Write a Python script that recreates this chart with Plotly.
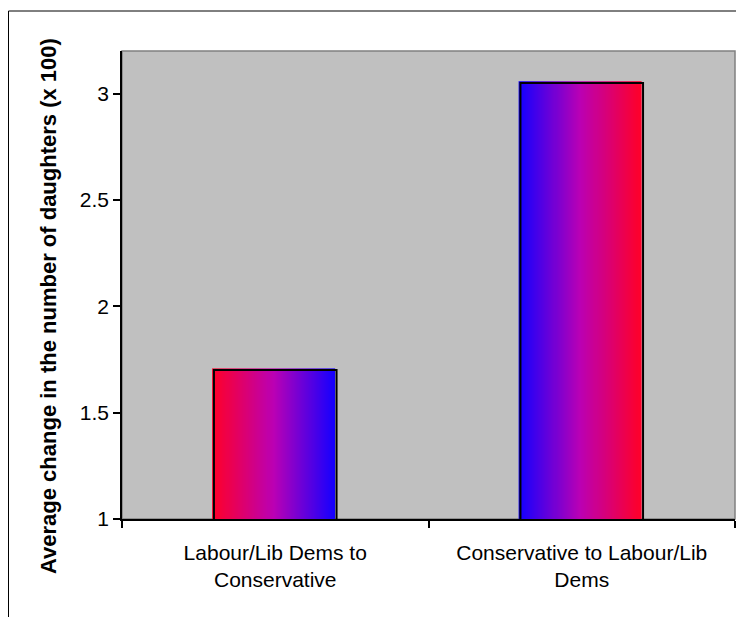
import numpy as np
import plotly.graph_objects as go

# ---- data ----
categories = ["Labour/Lib Dems to<br>Conservative", "Conservative to Labour/Lib<br>Dems"]
values = [1.70, 3.05]
y_ticks = [1, 1.5, 2, 2.5, 3]
y_tick_labels = ["1", "1.5", "2", "2.5", "3"]
y_title = "Average change in the number of daughters (x 100)"

# ---- style ----
FONT = "Liberation Sans, Arial, sans-serif"
BAR_WIDTH = 0.4
Y_MIN, Y_MAX = 1, 3.2
RED_TO_BLUE = [[0, "#FF0028"], [0.5, "#BA00B4"], [1, "#1400FF"]]
BLUE_TO_RED = [[0, "#1400FF"], [0.5, "#BA00B4"], [1, "#FF0028"]]
scales = [RED_TO_BLUE, BLUE_TO_RED]
FILL_DX = -0.006   # small offset of the fill vs the outline (3D look)
FILL_DY = 0.008
N_COLS = 120

# page geometry (the page body adds an 8px offset)
PL, PT, PR, PB = 122, 51, 735, 519      # plot area in page pixels
OFF = 8
FIG_W, FIG_H = 736, 609
PW, PH = PR - PL, PB - PT

x_pos = list(range(len(categories)))

fig = go.Figure()

# gradient fills (heatmaps are layered below bars)
for xi, v, cs in zip(x_pos, values, scales):
    xe = np.linspace(xi - BAR_WIDTH / 2, xi + BAR_WIDTH / 2, N_COLS + 1) + FILL_DX
    fig.add_trace(go.Heatmap(
        x=xe, y=[Y_MIN, v + FILL_DY], z=[list(range(N_COLS))],
        colorscale=cs, showscale=False, hoverinfo="skip", zsmooth=False,
    ))

# bar outlines
fig.add_trace(go.Bar(
    x=x_pos, y=values, width=BAR_WIDTH,
    marker=dict(color="rgba(0,0,0,0)", line=dict(color="black", width=2)),
    hovertemplate="%{y}<extra></extra>",
))

fig.update_layout(
    width=FIG_W, height=FIG_H,
    margin=dict(l=PL - OFF, r=FIG_W - (PR - OFF), t=PT - OFF, b=FIG_H - (PB - OFF)),
    paper_bgcolor="white",
    plot_bgcolor="#C0C0C0",
    showlegend=False,
    font=dict(family=FONT, size=21, color="black"),
    xaxis=dict(
        range=[-0.5, 1.5], tickmode="array", tickvals=x_pos, ticktext=categories,
        showgrid=False, zeroline=False, showline=True, linecolor="black", linewidth=1.5,
        ticks="", ticklabelstandoff=14,
        minor=dict(tickmode="linear", tick0=-0.5, dtick=1, ticks="outside",
                   ticklen=7, tickcolor="black", tickwidth=1.5, showgrid=False),
        tickfont=dict(family=FONT, size=21),
    ),
    yaxis=dict(
        range=[Y_MIN, Y_MAX], tickmode="array", tickvals=y_ticks, ticktext=y_tick_labels,
        showgrid=False, zeroline=False, showline=True, linecolor="black", linewidth=1.5,
        ticks="outside", ticklen=7, tickcolor="black", tickwidth=1.5,
        tickfont=dict(family=FONT, size=21),
    ),
    shapes=[
        # plot-area border (grey top/right)
        dict(type="rect", xref="paper", yref="paper", x0=0, y0=0, x1=1, y1=1,
             line=dict(color="#808080", width=1.5), layer="below"),
        # chart outer border
        dict(type="rect", xref="paper", yref="paper",
             x0=(8.5 - PL) / PW, x1=(780 - PL) / PW,
             y0=(PB - 660) / PH, y1=1 + (PT - 11) / PH,
             line=dict(color="black", width=1), layer="below"),
    ],
    annotations=[
        dict(text="<b>" + y_title + "</b>", textangle=-90, xref="paper", yref="paper",
             x=(48 - PL) / PW, y=(PB - 306) / PH, xanchor="center", yanchor="middle",
             showarrow=False, font=dict(family=FONT, size=22, color="black")),
    ],
)

fig.write_html("out.html")
